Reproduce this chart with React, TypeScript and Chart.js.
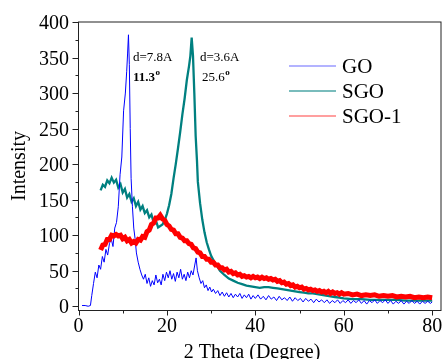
import { useEffect, useRef } from "react";
import { Chart, registerables } from "chart.js";

Chart.register(...registerables);

// GO (blue)
const goX = [0.8, 1.5, 2.2, 2.7, 3.0, 3.4, 3.8, 4.2, 4.6, 5.0, 5.4, 5.8, 6.2, 6.6, 7.0, 7.4, 7.8, 8.2, 8.6, 9.0, 9.4, 9.8, 10.2, 10.6, 10.9, 11.1, 11.3, 11.5, 11.7, 11.9, 12.2, 12.5, 12.8, 13.1, 13.5, 13.9, 14.3, 14.7, 15.1, 15.5, 15.9, 16.3, 16.7, 17.1, 17.5, 17.9, 18.3, 18.7, 19.1, 19.5, 19.9, 20.3, 20.7, 21.1, 21.5, 21.9, 22.3, 22.7, 23.1, 23.5, 23.9, 24.3, 24.7, 25.1, 25.5, 25.9, 26.3, 26.6, 26.9, 27.3, 27.7, 28.1, 28.5, 28.9, 29.3, 29.7, 30.1, 30.5, 31, 31.5, 32, 32.5, 33, 33.5, 34, 34.5, 35, 35.5, 36, 36.5, 37, 37.5, 38, 38.5, 39, 39.5, 40, 40.6, 41.2, 41.8, 42.4, 43, 43.6, 44.2, 44.8, 45.4, 46, 46.6, 47.2, 47.8, 48.4, 49, 49.6, 50.2, 50.8, 51.4, 52, 52.6, 53.2, 53.8, 54.4, 55, 55.6, 56.2, 56.8, 57.4, 58, 58.6, 59.2, 59.8, 60.4, 61, 61.6, 62.2, 62.8, 63.4, 64, 64.6, 65.2, 65.8, 66.4, 67, 67.6, 68.2, 68.8, 69.4, 70, 70.6, 71.2, 71.8, 72.4, 73, 73.6, 74.2, 74.8, 75.4, 76, 76.6, 77.2, 77.8, 78.4, 79, 79.6, 80];
const goY = [1, 1, 0, 1, 15, 32, 48, 40, 58, 52, 70, 62, 80, 72, 88, 95, 84, 110, 118, 140, 185, 210, 275, 300, 330, 355, 382, 340, 250, 180, 140, 110, 95, 75, 62, 52, 44, 38, 45, 32, 40, 28, 36, 30, 44, 33, 38, 30, 45, 36, 48, 40, 50, 38, 46, 35, 48, 40, 52, 38, 45, 36, 48, 40, 50, 44, 58, 68, 50, 40, 32, 36, 26, 30, 22, 27, 20, 24, 18, 22, 15, 20, 14, 19, 13, 18, 12, 17, 13, 18, 11, 16, 12, 17, 10, 15, 11, 16, 10, 14, 9, 15, 10, 13, 8, 14, 9, 12, 8, 13, 7, 12, 8, 11, 6, 11, 7, 10, 5, 10, 6, 9, 5, 9, 4, 8, 5, 9, 4, 8, 5, 9, 4, 8, 5, 9, 4, 8, 3, 8, 5, 9, 4, 8, 5, 9, 4, 8, 3, 7, 4, 8, 3, 7, 4, 8, 4, 7, 3, 7, 4, 7, 4, 6];

// SGO (teal)
const sgoX = [5, 5.5, 6, 6.5, 7, 7.5, 8, 8.5, 9, 9.5, 10, 10.5, 11, 11.5, 12, 12.5, 13, 13.5, 14, 14.5, 15, 15.5, 16, 16.5, 17, 17.5, 18, 18.5, 19, 19.5, 20, 20.5, 21, 21.5, 22, 22.5, 23, 23.5, 24, 24.5, 25, 25.3, 25.6, 25.9, 26.2, 26.5, 26.8, 27, 27.5, 28, 28.5, 29, 29.5, 30, 30.5, 31, 31.5, 32, 33, 34, 35, 36, 37, 38, 39, 40, 41, 42, 43, 44, 45, 46, 47, 48, 49, 50, 51, 52, 53, 54, 55, 56, 57, 58, 59, 60, 62, 64, 66, 68, 70, 72, 74, 76, 78, 80];
const sgoY = [163, 171, 168, 177, 173, 181, 174, 178, 167, 172, 160, 165, 153, 158, 147, 152, 141, 147, 136, 141, 131, 135, 125, 129, 118, 121, 111, 113, 115, 121, 130, 142, 158, 180, 200, 222, 245, 270, 292, 318, 338, 352, 378, 352, 300, 240, 205, 175, 145, 122, 104, 90, 80, 71, 65, 59, 55, 50, 44, 39, 36, 33, 31, 29, 28, 27, 26, 27, 27, 26, 25, 24, 23, 22, 21, 20, 19, 18, 18, 17, 16, 15, 14, 13, 12, 11, 10, 10, 9, 9, 9, 9, 8, 8, 8, 8];

// SGO-1 (red)
const sgo1X = [5, 5.5, 6, 6.5, 7, 7.5, 8, 8.5, 9, 9.5, 10, 10.5, 11, 11.5, 12, 12.5, 13, 13.5, 14, 14.5, 15, 15.5, 16, 16.5, 17, 17.5, 18, 18.5, 19, 19.5, 20, 20.5, 21, 21.5, 22, 22.5, 23, 23.5, 24, 24.5, 25, 25.5, 26, 26.5, 27, 27.5, 28, 28.5, 29, 29.5, 30, 30.5, 31, 31.5, 32, 32.5, 33, 33.5, 34, 34.5, 35, 35.5, 36, 36.5, 37, 37.5, 38, 38.5, 39, 39.5, 40, 40.5, 41, 41.5, 42, 42.5, 43, 43.5, 44, 44.5, 45, 45.5, 46, 46.5, 47, 47.5, 48, 48.5, 49, 49.5, 50, 50.5, 51, 51.5, 52, 52.5, 53, 53.5, 54, 54.5, 55, 55.5, 56, 56.5, 57, 57.5, 58, 58.5, 59, 59.5, 60, 61, 62, 63, 64, 65, 66, 67, 68, 69, 70, 71, 72, 73, 74, 75, 76, 77, 78, 79, 80];
const sgo1Y = [79, 86, 87, 94, 94, 100, 99, 101, 99, 100, 95, 97, 92, 94, 89, 91, 89, 94, 93, 98, 97, 105, 107, 115, 117, 124, 124, 128, 123, 121, 115, 113, 108, 107, 102, 102, 97, 96, 92, 92, 88, 87, 82, 81, 76, 75, 70, 70, 66, 66, 62, 62, 58, 58, 54, 54, 51, 52, 48, 49, 46, 47, 44, 45, 42, 43, 41, 42, 40, 42, 40, 41, 39, 41, 39, 40, 38, 39, 37, 38, 35, 36, 33, 34, 31, 32, 29, 30, 27, 28, 26, 27, 24, 25, 23, 24, 22, 23, 21, 22, 20, 21, 19, 21, 18, 20, 18, 19, 17, 19, 17, 18, 16, 17, 15, 16, 15, 16, 14, 15, 14, 15, 13, 14, 13, 14, 12, 13, 12, 13, 12];

const seriesNames = ["GO", "SGO", "SGO-1"];
const xMajorTicks = [0, 20, 40, 60, 80];
const xMinorTicks = [10, 30, 50, 70];
const yMajorTicks = [0, 50, 100, 150, 200, 250, 300, 350, 400];
const yMinorTicks = [25, 75, 125, 175, 225, 275, 325, 375];

const SERIF = '"Liberation Serif", "DejaVu Serif", serif';

const toPts = (xs: number[], ys: number[]) => xs.map((x, i) => ({ x, y: ys[i] }));

const decorPlugin = {
  id: "decor",
  afterDraw(chart: any) {
    const { ctx, chartArea } = chart;
    const xs = chart.scales.x;
    const ys = chart.scales.y;
    const { left, right, top, bottom } = chartArea;
    ctx.save();
    // frame
    ctx.strokeStyle = "#222";
    ctx.lineWidth = 1;
    ctx.strokeRect(left, top, right - left, bottom - top);
    // ticks
    ctx.beginPath();
    xMajorTicks.forEach((v) => {
      const px = Math.round(xs.getPixelForValue(v)) + 0.5;
      ctx.moveTo(px, bottom);
      ctx.lineTo(px, bottom + 5);
    });
    xMinorTicks.forEach((v) => {
      const px = Math.round(xs.getPixelForValue(v)) + 0.5;
      ctx.moveTo(px, bottom);
      ctx.lineTo(px, bottom + 3);
    });
    yMajorTicks.forEach((v) => {
      const py = Math.round(ys.getPixelForValue(v)) + 0.5;
      ctx.moveTo(left, py);
      ctx.lineTo(left - 6, py);
    });
    yMinorTicks.forEach((v) => {
      const py = Math.round(ys.getPixelForValue(v)) + 0.5;
      ctx.moveTo(left, py);
      ctx.lineTo(left - 3, py);
    });
    ctx.stroke();
    // tick labels
    ctx.fillStyle = "#000";
    ctx.font = `20px ${SERIF}`;
    ctx.textBaseline = "alphabetic";
    ctx.textAlign = "center";
    xMajorTicks.forEach((v) => {
      ctx.fillText(String(v), xs.getPixelForValue(v), 332);
    });
    ctx.textAlign = "right";
    yMajorTicks.forEach((v) => {
      ctx.fillText(String(v), 69, ys.getPixelForValue(v) + 7);
    });
    // axis titles
    ctx.textAlign = "center";
    ctx.fillText("2 Theta (Degree)", 252, 358);
    ctx.save();
    ctx.translate(25, 166);
    ctx.rotate(-Math.PI / 2);
    ctx.fillText("Intensity", 0, 0);
    ctx.restore();
    // annotations
    ctx.textAlign = "left";
    ctx.font = `13px ${SERIF}`;
    ctx.fillText("d=7.8A", 133, 61);
    ctx.fillText("d=3.6A", 200, 61);
    ctx.font = `bold 13px ${SERIF}`;
    ctx.fillText("11.3", 133, 81);
    let w = ctx.measureText("11.3").width;
    ctx.font = `bold 9px ${SERIF}`;
    ctx.fillText("o", 133 + w + 0.5, 75);
    ctx.font = `13px ${SERIF}`;
    ctx.fillText("25.6", 202, 81);
    w = ctx.measureText("25.6").width;
    ctx.font = `bold 9px ${SERIF}`;
    ctx.fillText("o", 202 + w + 0.5, 75);
    // legend
    const legendColors = ["rgba(0,0,255,0.4)", "rgba(0,128,128,0.7)", "rgba(255,0,0,0.5)"];
    const rowsY = [66, 91, 116];
    ctx.font = `21px ${SERIF}`;
    seriesNames.forEach((name, i) => {
      ctx.strokeStyle = legendColors[i];
      ctx.lineWidth = 1.5;
      ctx.beginPath();
      ctx.moveTo(289, rowsY[i]);
      ctx.lineTo(336, rowsY[i]);
      ctx.stroke();
      ctx.fillStyle = "#000";
      ctx.fillText(name, 342, rowsY[i] + 7);
    });
    ctx.restore();
  },
};

export default function App() {
  const ref = useRef<HTMLCanvasElement>(null);
  useEffect(() => {
    document.body.style.margin = "0";
    const chart = new Chart(ref.current!, {
      type: "line",
      data: {
        datasets: [
          {
            label: seriesNames[0],
            data: toPts(goX, goY),
            borderColor: "#0000ff",
            borderWidth: 1,
            pointRadius: 0,
            tension: 0,
            order: 1,
          },
          {
            label: seriesNames[1],
            data: toPts(sgoX, sgoY),
            borderColor: "#008080",
            borderWidth: 2.3,
            pointRadius: 0,
            tension: 0,
            order: 2,
          },
          {
            label: seriesNames[2],
            data: toPts(sgo1X, sgo1Y),
            borderColor: "#ff0000",
            borderWidth: 5,
            pointRadius: 0,
            tension: 0,
            order: 0,
          },
        ],
      },
      options: {
        animation: false,
        responsive: false,
        maintainAspectRatio: false,
        layout: { padding: { left: 78.5, right: 1, top: 22, bottom: 48.5 } },
        plugins: { legend: { display: false }, tooltip: { enabled: false } },
        scales: {
          x: { type: "linear", min: 0, max: 82, display: false },
          y: { type: "linear", min: -6, max: 400, display: false },
        },
      },
      plugins: [decorPlugin],
    });
    return () => chart.destroy();
  }, []);
  return <canvas ref={ref} width={442} height={359} style={{ display: "block" }} />;
}
